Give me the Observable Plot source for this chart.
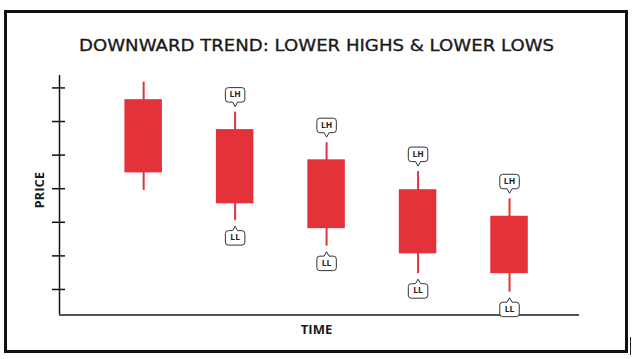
<!DOCTYPE html>
<html><head><meta charset="utf-8">
<script src="https://cdn.jsdelivr.net/npm/d3@7"></script>
<script src="https://cdn.jsdelivr.net/npm/@observablehq/plot@0.6"></script>
<style>
html,body{margin:0;padding:0;background:#fff;}
#wrap{position:relative;width:633px;height:359px;overflow:hidden;font-family:"Open Sans",sans-serif;}
#title{position:absolute;left:0;width:633px;top:34px;text-align:center;font-family:"DejaVu Sans",sans-serif;font-size:16.5px;font-weight:normal;color:#1a1a1a;white-space:nowrap;line-height:24px;-webkit-text-stroke:0.35px #1a1a1a;}
#title span{display:inline-block;transform-origin:50% 50%;}
#frame{position:absolute;left:4px;top:10px;width:618px;height:337px;border:3px solid #111;pointer-events:none;}
#chart{position:absolute;left:0;top:60px;}
#mark{position:absolute;left:630px;top:337px;width:1px;height:18px;background:#222;}
</style></head>
<body>
<div id="wrap">
  <div id="title"><span id="titleText">DOWNWARD TREND: LOWER HIGHS &amp; LOWER LOWS</span></div>
  <div id="chart"></div>
  <div id="frame"></div>
  <div id="mark"></div>
</div>
<script>
const times = [1, 2, 3, 4, 5];
const opens = [6.65, 5.76, 4.86, 3.97, 3.18];
const closes = [4.47, 3.55, 2.81, 2.06, 1.47];
const highs = [7.17, 6.28, 5.37, 4.51, 3.70];
const lows = [3.95, 3.05, 2.29, 1.47, 0.92];
const highLabels = ["", "LH", "LH", "LH", "LH"];
const lowLabels = ["", "LL", "LL", "LL", "LL"];
const yTicks = [1, 2, 3, 4, 5, 6, 7];

const data = times.map((t, i) => ({t, open: opens[i], close: closes[i], high: highs[i], low: lows[i], hl: highLabels[i], ll: lowLabels[i]}));

const red = "#e3323a";

function callout(dir) {
  return {
    draw(ctx) {
      const s = dir; // -1 above, +1 below
      const w = 19.5, h = 14.5, tip = 5.5 * s, base = 10 * s, r = 3;
      const far = base + h * s;
      const l = -w / 2, rt = w / 2;
      ctx.moveTo(0, tip);
      ctx.lineTo(-2.5, base);
      ctx.lineTo(l + r, base);
      ctx.arcTo(l, base, l, base + r * s, r);
      ctx.lineTo(l, far - r * s);
      ctx.arcTo(l, far, l + r, far, r);
      ctx.lineTo(rt - r, far);
      ctx.arcTo(rt, far, rt, far - r * s, r);
      ctx.lineTo(rt, base + r * s);
      ctx.arcTo(rt, base, rt - r, base, r);
      ctx.lineTo(2.5, base);
      ctx.closePath();
    }
  };
}

const chart = Plot.plot({
  width: 633,
  height: 288,
  marginLeft: 59,
  marginRight: 54,
  marginTop: 15,
  marginBottom: 33.5,
  x: {domain: [0.08, 5.765], axis: null},
  y: {domain: [0.24, 7.37]},
  style: {background: "transparent", overflow: "visible", fontFamily: "Open Sans, sans-serif"},
  marks: [
    Plot.axisY({ticks: yTicks, tickSize: 13, dx: 6, tickFormat: () => "", stroke: "#111", strokeWidth: 1.5, label: null}),
    Plot.ruleX([0.08], {stroke: "#111", strokeWidth: 1.5}),
    Plot.ruleY([0.24], {stroke: "#555", strokeWidth: 2}),
    Plot.ruleX(data, {x: "t", y1: "low", y2: "high", stroke: red, strokeWidth: 2}),
    Plot.rect(data, {x1: d => d.t - 0.205, x2: d => d.t + 0.205, y1: "open", y2: "close", fill: red}),
    Plot.dot(data, {filter: d => d.hl, x: "t", y: "high", symbol: callout(-1), r: 5, fill: "white", stroke: "#333", strokeWidth: 1}),
    Plot.dot(data, {filter: d => d.ll, x: "t", y: "low", symbol: callout(1), r: 5, fill: "white", stroke: "#333", strokeWidth: 1}),
    Plot.text(data, {filter: d => d.hl, x: "t", y: "high", text: "hl", dy: -17.5, fontSize: 8.5, fontWeight: 700, fill: "#222"}),
    Plot.text(data, {filter: d => d.ll, x: "t", y: "low", text: "ll", dy: 17, fontSize: 8.5, fontWeight: 700, fill: "#222"}),
    Plot.text(["TIME"], {frameAnchor: "bottom", lineAnchor: "middle", textAnchor: "middle", dy: 14.5, dx: -3, fontSize: 13, fontWeight: 700, fill: "#1a1a1a"}),
    Plot.text(["PRICE"], {frameAnchor: "left", lineAnchor: "middle", textAnchor: "middle", rotate: -90, dx: -20, dy: -5, fontSize: 13, fontWeight: 700, fill: "#1a1a1a"})
  ]
});
document.getElementById("chart").appendChild(chart);

const tt = document.getElementById("titleText");
const w = tt.getBoundingClientRect().width;
tt.style.transform = "scaleX(" + (475 / w) + ")";
</script>
</body></html>
